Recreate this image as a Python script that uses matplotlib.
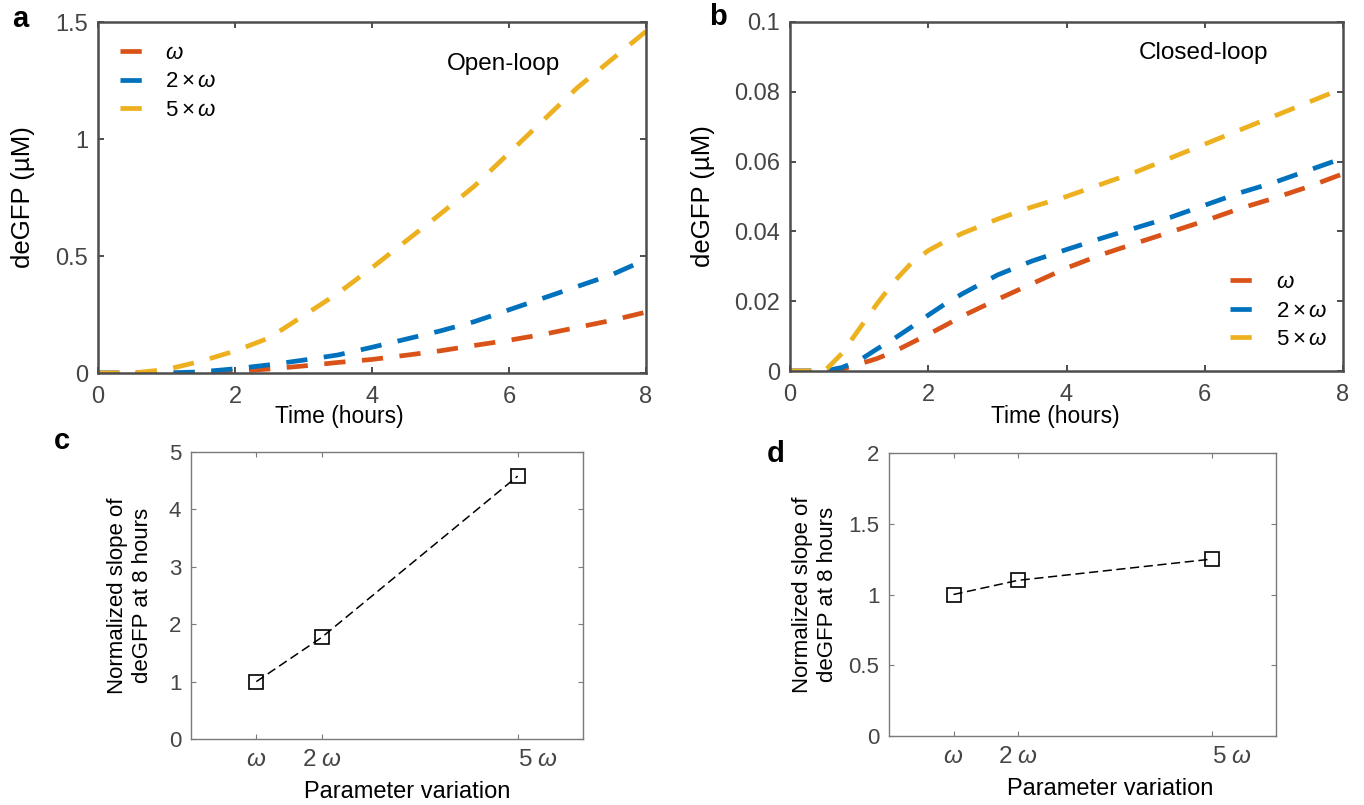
import numpy as np
import matplotlib
matplotlib.use("Agg")
import matplotlib.pyplot as plt
from matplotlib.ticker import FormatStrFormatter

plt.rcParams['font.family'] = ['Liberation Sans', 'DejaVu Sans']
plt.rcParams['mathtext.fontset'] = 'custom'
plt.rcParams['mathtext.rm'] = 'Liberation Sans'
plt.rcParams['mathtext.it'] = 'Liberation Sans:italic'

# ---- data -------------------------------------------------------------
series_labels = [r"$\omega$", r"$2\times\omega$", r"$5\times\omega$"]
series_colors = ["#D95319", "#0072BD", "#EDB120"]

# open-loop deGFP (uM) vs time (hours)
t_open = [0, 0.5, 1, 1.5, 2, 2.5, 3, 3.5, 4, 4.5, 5, 5.5, 6, 6.5, 7, 7.5, 8]
open_w = [0, 0, 0, 0, 0.007, 0.017, 0.03, 0.045, 0.058, 0.076, 0.095,
          0.118, 0.14, 0.165, 0.195, 0.225, 0.26]
open_2w = [0, 0, 0, 0.005, 0.018, 0.035, 0.055, 0.077, 0.11, 0.145, 0.18,
           0.22, 0.27, 0.32, 0.37, 0.42, 0.485]
open_5w = [0, 0, 0.015, 0.05, 0.094, 0.15, 0.245, 0.34, 0.45, 0.565, 0.68,
           0.80, 0.94, 1.08, 1.22, 1.34, 1.46]

# closed-loop deGFP (uM) vs time (hours)
t_closed = [0, 0.5, 0.75, 1, 1.25, 1.5, 1.75, 2, 2.25, 2.5, 3, 3.5, 4, 4.5,
            5, 5.5, 6, 6.5, 7, 7.5, 8]
closed_w = [0, 0, 0.0005, 0.002, 0.0035, 0.0055, 0.008, 0.0105, 0.0131,
            0.0158, 0.0205, 0.025, 0.0295, 0.0333, 0.0366, 0.0398, 0.043,
            0.0465, 0.0495, 0.0528, 0.0565]
closed_2w = [0, 0, 0.001, 0.003, 0.0062, 0.0092, 0.0125, 0.016, 0.0193,
             0.0222, 0.0275, 0.0315, 0.0348, 0.038, 0.041, 0.044, 0.0475,
             0.051, 0.054, 0.0575, 0.061]
closed_5w = [0, 0, 0.005, 0.012, 0.019, 0.0255, 0.0308, 0.0345, 0.0372,
             0.0395, 0.0435, 0.047, 0.050, 0.0535, 0.057, 0.061, 0.065,
             0.069, 0.073, 0.077, 0.081]

# normalized slope at 8 hours vs parameter multiple
variation = [1, 2, 5]
variation_labels = [r"$\omega$", r"$2\;\omega$", r"$5\;\omega$"]
slope_open = [1.0, 1.77, 4.58]
slope_closed = [1.0, 1.10, 1.25]

# ---- layout -----------------------------------------------------------
W, H = 1364, 805
fig = plt.figure(figsize=(W / 100, H / 100), dpi=100)


def rect(l, r, t, b):
    return [l / W, 1 - b / H, (r - l) / W, (b - t) / H]


ax_a = fig.add_axes(rect(98, 646, 22, 373))
ax_b = fig.add_axes(rect(790, 1343, 22, 371))
ax_c = fig.add_axes(rect(191, 583, 452, 739))
ax_d = fig.add_axes(rect(889, 1276, 453, 736))

TICK_GRAY = "#454545"


def style_time_axes(ax):
    for s in ax.spines.values():
        s.set_color("#4d4d4d")
        s.set_linewidth(1.8)
    ax.tick_params(direction="in", length=4, width=1.4, color="#4d4d4d",
                   top=True, right=True, labelsize=17, labelcolor=TICK_GRAY)
    ax.tick_params(axis="x", pad=9)
    ax.tick_params(axis="y", pad=7)
    ax.set_xlim(0, 8)
    ax.set_xticks([0, 2, 4, 6, 8])
    ax.yaxis.set_major_formatter(FormatStrFormatter("%g"))


def draw_series(ax, t, ys):
    for y, c, lab in zip(ys, series_colors, series_labels):
        ax.plot(t, y, color=c, lw=3.4, dashes=(4.5, 3.5),
                dash_capstyle="butt", label=lab)


def add_legend(ax, anchor):
    ax.legend(loc="upper left", bbox_to_anchor=anchor, frameon=False,
              fontsize=16, handlelength=1.0, handletextpad=1.05,
              labelspacing=0.33, borderpad=0, borderaxespad=0)


# panel a: open loop
draw_series(ax_a, t_open, [open_w, open_2w, open_5w])
style_time_axes(ax_a)
ax_a.set_ylim(0, 1.5)
ax_a.set_yticks([0, 0.5, 1, 1.5])
ax_a.set_xlabel("Time (hours)", fontsize=16.5)
ax_a.set_ylabel("deGFP (\u00b5M)", fontsize=18.5)
ax_a.xaxis.set_label_coords(0.44, -0.125)
ax_a.xaxis.label.set_va("center")
ax_a.yaxis.set_label_coords(-0.137, 0.5)
ax_a.yaxis.label.set_va("center")
ax_a.text(0.74, 0.88, "Open-loop", transform=ax_a.transAxes,
          fontsize=17.5, ha="center", va="center")
add_legend(ax_a, (0.04, 0.94))

# panel b: closed loop
draw_series(ax_b, t_closed, [closed_w, closed_2w, closed_5w])
style_time_axes(ax_b)
ax_b.set_ylim(0, 0.1)
ax_b.set_yticks([0, 0.02, 0.04, 0.06, 0.08, 0.1])
ax_b.set_xlabel("Time (hours)", fontsize=16.5)
ax_b.set_ylabel("deGFP (\u00b5M)", fontsize=18.5)
ax_b.xaxis.set_label_coords(0.48, -0.129)
ax_b.xaxis.label.set_va("center")
ax_b.yaxis.set_label_coords(-0.157, 0.5)
ax_b.yaxis.label.set_va("center")
ax_b.text(0.748, 0.91, "Closed-loop", transform=ax_b.transAxes,
          fontsize=17.5, ha="center", va="center")
add_legend(ax_b, (0.796, 0.283))


def style_slope_axes(ax, values, ymax, yticks, xlab_x, xlab_y, ylab_x):
    ax.plot(variation, values, color="black", lw=1.1, dashes=(6, 3),
            marker="s", markersize=9.5, markerfacecolor="none",
            markeredgecolor="black", markeredgewidth=1.2)
    for s in ax.spines.values():
        s.set_color("#7a7a7a")
        s.set_linewidth(1.0)
    ax.tick_params(direction="in", length=3.5, width=0.8, color="#7a7a7a",
                   top=True, right=True, labelsize=16, labelcolor=TICK_GRAY)
    ax.tick_params(axis="y", pad=7)
    ax.tick_params(axis="x", pad=7, labelsize=17.5)
    ax.set_xlim(0, 6)
    ax.set_xticks(variation)
    ax.set_xticklabels(variation_labels)
    tl = ax.get_xticklabels()
    tl[2].set_ha("left")
    ax.set_ylim(0, ymax)
    ax.set_yticks(yticks)
    ax.yaxis.set_major_formatter(FormatStrFormatter("%g"))
    ax.set_xlabel("Parameter variation", fontsize=17)
    ax.xaxis.set_label_coords(xlab_x, xlab_y)
    ax.xaxis.label.set_va("center")
    ax.set_ylabel("Normalized slope of\ndeGFP at 8 hours", fontsize=16,
                  linespacing=1.25)
    ax.yaxis.set_label_coords(ylab_x, 0.5)
    ax.yaxis.label.set_va("center")


style_slope_axes(ax_c, slope_open, 5, [0, 1, 2, 3, 4, 5], 0.551, -0.183, -0.156)
style_slope_axes(ax_d, slope_closed, 2, [0, 0.5, 1, 1.5, 2], 0.571, -0.189, -0.19)

# panel letters
for lab, x, y in [("a", 20, 19), ("b", 718, 17), ("c", 62, 441), ("d", 776, 454)]:
    fig.text(x / W, 1 - y / H, lab, fontsize=21, fontweight="bold",
             ha="center", va="center")

fig.savefig("out.png", dpi=100)
